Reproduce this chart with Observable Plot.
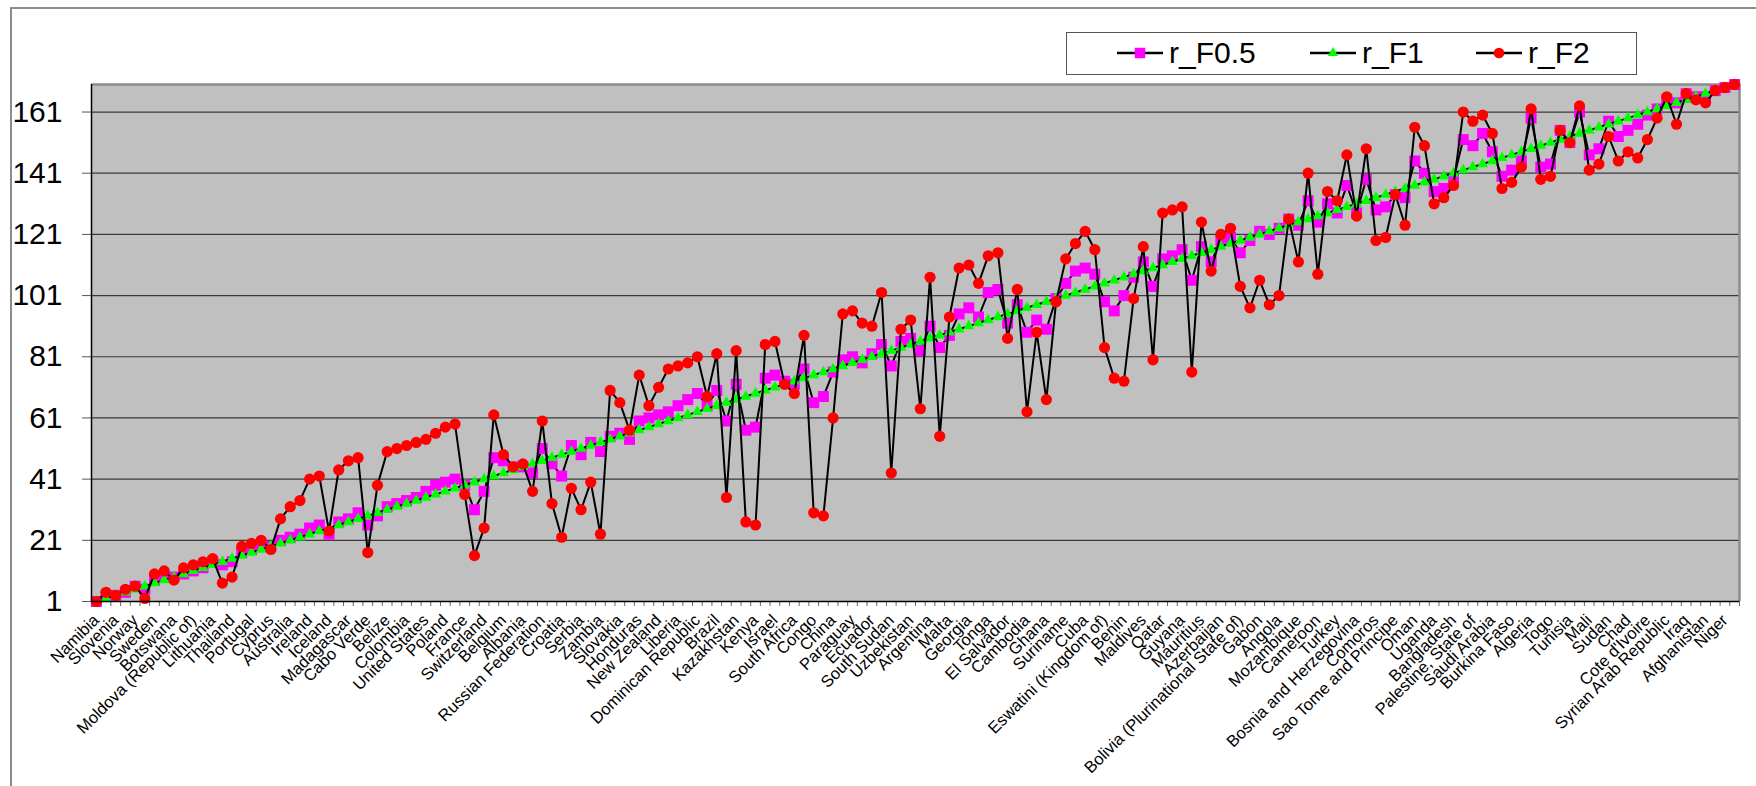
<!DOCTYPE html>
<html>
<head>
<meta charset="utf-8">
<script src="https://cdn.jsdelivr.net/npm/d3@7"></script>
<script src="https://cdn.jsdelivr.net/npm/@observablehq/plot@0.6"></script>
<style>
html, body { margin: 0; padding: 0; background: #fff; }
#wrap { position: relative; width: 1756px; height: 786px; overflow: hidden; font-family: "Liberation Sans", Arial, sans-serif; }
#chart { position: absolute; left: 0; top: 0; }
#outer { position: absolute; left: 10px; top: 7px; width: 1800px; height: 900px; border-left: 2px solid #8c8c8c; border-top: 2px solid #8c8c8c; pointer-events: none; }
#legend { position: absolute; left: 1066px; top: 32px; width: 571px; height: 43px; border: 1.5px solid #555; box-sizing: border-box; background: #fff; }
.item { position: absolute; top: 0; height: 40px; display: flex; align-items: center; }
.item span { font-size: 30px; color: #000; margin-left: 6px; }
</style>
</head>
<body>
<div id="wrap">
  <div id="chart"></div>
  <div id="outer"></div>
  <div id="legend"></div>
</div>
<script>
// Category labels shown on the axis (every other country, ranks 1,3,5,...,169)
const labels = ["Namibia","Slovenia","Norway","Sweden","Botswana","Moldova (Republic of)","Lithuania","Thailand","Portugal","Cyprus",
"Australia","Ireland","Iceland","Madagascar","Cabo Verde","Belize","Colombia","United States","Poland","France",
"Switzerland","Belgium","Albania","Russian Federation","Croatia","Serbia","Zambia","Slovakia","Honduras","New Zealand",
"Liberia","Dominican Republic","Brazil","Kazakhstan","Kenya","Israel","South Africa","Congo","China","Paraguay",
"Ecuador","South Sudan","Uzbekistan","Argentina","Malta","Georgia","Tonga","El Salvador","Cambodia","Ghana",
"Suriname","Cuba","Eswatini (Kingdom of)","Benin","Maldives","Qatar","Guyana","Mauritius","Azerbaijan","Bolivia (Plurinational State of)",
"Gabon","Angola","Mozambique","Cameroon","Turkey","Bosnia and Herzegovina","Comoros","Sao Tome and Principe","Oman","Uganda",
"Bangladesh","Palestine, State of","Saudi Arabia","Burkina Faso","Algeria","Togo","Tunisia","Mali","Sudan","Chad",
"Cote d'Ivoire","Syrian Arab Republic","Iraq","Afghanistan","Niger"];

// Y tick labels
const yTicks = [1, 21, 41, 61, 81, 101, 121, 141, 161];

// Series values (one per country, in axis order)
const rF05 = [1,3,3,4,6,5,8,9,9,10,11,12,14,13,14,17,18,19,19,21,
22,23,25,26,23,27,28,30,26,29,32,33,34,35,37,39,40,41,39,31,
37,48,47,45,45,43,51,46,42,52,49,53,50,55,56,54,60,61,62,63,
65,67,69,65,70,60,72,57,58,74,75,73,72,77,66,68,76,80,81,79,
82,85,78,86,87,83,91,84,88,95,97,94,102,103,92,98,89,93,90,100,
105,109,110,108,99,96,101,107,112,104,113,114,116,106,117,112,119,120,115,119,
122,121,123,126,124,132,125,131,128,137,128,139,129,130,134,133,145,141,135,136,
139,152,150,154,148,140,142,145,159,143,144,155,151,161,147,149,158,153,155,157,
160,162,165,164,167,166,166,168,169,170];

const rF1 = [1,2,3,4,5,6,7,8,9,10,11,12,13,14,15,16,17,18,19,20,
21,22,23,24,25,26,27,28,29,30,31,32,33,34,35,36,37,38,39,40,
41,42,43,44,45,46,47,48,49,50,51,52,53,54,55,56,57,58,59,60,
61,62,63,64,65,66,67,68,69,70,71,72,73,74,75,76,77,78,79,80,
81,82,83,84,85,86,87,88,89,90,91,92,93,94,95,96,97,98,99,100,
101,102,103,104,105,106,107,108,109,110,111,112,113,114,115,116,117,118,119,120,
121,122,123,124,125,126,127,128,129,130,131,132,133,134,135,136,137,138,139,140,
141,142,143,144,145,146,147,148,149,150,151,152,153,154,155,156,157,158,159,160,
161,162,163,164,165,166,167,168,169,170];

const rF2 = [1,4,3,5,6,2,10,11,8,12,13,14,15,7,9,19,20,21,18,28,
32,34,41,42,24,44,47,48,17,39,50,51,52,53,54,56,58,59,36,16,
25,62,49,45,46,37,60,33,22,38,31,40,23,70,66,57,75,65,71,77,
78,79,81,68,82,35,83,27,26,85,86,72,69,88,30,29,61,95,96,92,
91,102,43,90,93,64,107,55,94,110,111,105,114,115,87,103,63,89,67,99,
113,118,122,116,84,74,73,100,117,80,128,129,130,76,125,109,121,123,104,97,
106,98,101,126,112,141,108,135,132,147,127,149,119,120,134,124,156,150,131,133,
137,161,158,160,154,136,138,143,162,139,140,155,151,163,142,144,153,145,148,146,
152,159,166,157,167,165,164,168,169,170];

const seriesNames = ["r_F0.5", "r_F1", "r_F2"];
const seriesColors = ["#ff00ff", "#00ff00", "#ff0000"];
const seriesSymbols = ["square", "triangle", "circle"];

const rows = rF1.map((v, i) => ({pos: i + 1, f05: rF05[i], f1: rF1[i], f2: rF2[i]}));
const labelTicks = labels.map((_, k) => 2 * k + 1);
const n = rows.length;
const boundaries = d3.range(0, n + 1).map(k => k + 0.5);

const chart = Plot.plot({
  width: 1756,
  height: 786,
  marginLeft: 91,
  marginRight: 17,
  marginTop: 84,
  marginBottom: 185,
  style: {fontFamily: "'Liberation Sans', Arial, sans-serif", background: "transparent", color: "#000", overflow: "visible"},
  x: {type: "linear", domain: [0.5, n + 0.5]},
  y: {domain: [1, 170]},
  marks: [
    Plot.frame({fill: "#c0c0c0", stroke: null}),
    Plot.gridY(yTicks.slice(1), {stroke: "#3a3a3a", strokeOpacity: 1, strokeWidth: 1.2}),
    Plot.ruleY([170], {stroke: "#8c8c8c", strokeWidth: 2.5}),
    Plot.ruleX([n + 0.5], {stroke: "#8c8c8c", strokeWidth: 2.5}),
    Plot.axisY(yTicks, {tickSize: 9, tickPadding: 20, fontSize: 30, stroke: "#555", label: null, tickFormat: d => String(d)}),
    Plot.axisX(boundaries, {tickSize: 5, stroke: "#666", tickFormat: () => "", label: null}),
    Plot.axisX(labelTicks, {tickSize: 0, tickPadding: 16, tickRotate: -45, fontSize: 16.5, label: null, tickFormat: d => labels[(d - 1) / 2]}),
    Plot.line(rows, {x: "pos", y: "f05", stroke: "#000", strokeWidth: 2}),
    Plot.dot(rows, {x: "pos", y: "f05", symbol: "square", r: 6.2, fill: seriesColors[0]}),
    Plot.line(rows, {x: "pos", y: "f1", stroke: "#000", strokeWidth: 2}),
    Plot.dot(rows, {x: "pos", y: "f1", symbol: "triangle", r: 4.1, fill: seriesColors[1]}),
    Plot.line(rows, {x: "pos", y: "f2", stroke: "#000", strokeWidth: 2}),
    Plot.dot(rows, {x: "pos", y: "f2", symbol: "circle", r: 5.6, fill: seriesColors[2]}),
    Plot.ruleX([0.5], {stroke: "#000", strokeWidth: 1.5}),
    Plot.ruleY([1], {stroke: "#000", strokeWidth: 1.5})
  ]
});
document.getElementById("chart").appendChild(chart);

// Legend
const legend = document.getElementById("legend");
const itemLeft = [50, 243, 409];
seriesNames.forEach((name, k) => {
  const div = document.createElement("div");
  div.className = "item";
  div.style.left = itemLeft[k] + "px";
  const sw = d3.create("svg").attr("width", 46).attr("height", 20);
  sw.append("line").attr("x1", 0).attr("x2", 46).attr("y1", 10).attr("y2", 10).attr("stroke", "#000").attr("stroke-width", 2.5);
  const sym = seriesSymbols[k] === "square" ? d3.symbolSquare : seriesSymbols[k] === "triangle" ? d3.symbolTriangle : d3.symbolCircle;
  const size = seriesSymbols[k] === "square" ? 110 : seriesSymbols[k] === "triangle" ? 45 : 90;
  sw.append("path").attr("d", d3.symbol(sym, size)()).attr("transform", "translate(23,10)").attr("fill", seriesColors[k]);
  div.appendChild(sw.node());
  const span = document.createElement("span");
  span.textContent = name;
  div.appendChild(span);
  legend.appendChild(div);
});
</script>
</body>
</html>
